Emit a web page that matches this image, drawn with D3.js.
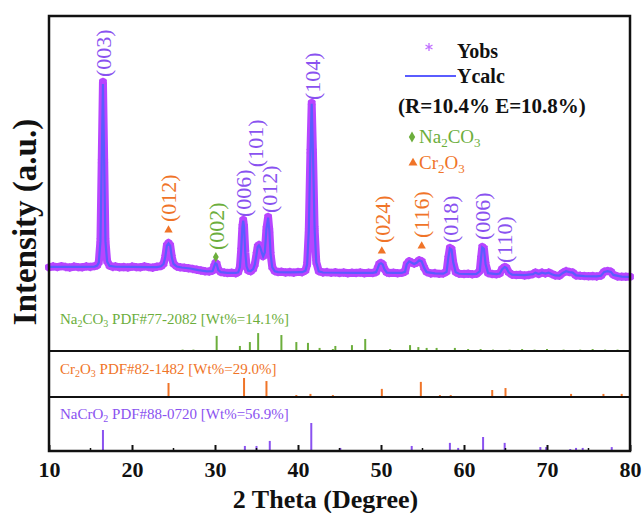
<!DOCTYPE html>
<html><head><meta charset="utf-8">
<script src="https://cdn.jsdelivr.net/npm/d3@7"></script>
<style>body{margin:0;background:#fff}svg{display:block}text{font-family:"Liberation Serif","Times New Roman",serif}</style>
</head><body>
<svg id="c" width="644" height="513"></svg>
<script>
// ---------- data ----------
const obsPoints = [[10,640],[10.5,690],[11,650],[11.5,700],[12,660],[12.5,630],[13,680],[13.5,650],[14,640],[14.5,690],[15,660],[15.5,700],[15.8,740],[16.0,900],[16.2,2000],[16.35,6000],[16.5,10000],[16.65,6000],[16.8,2000],[17.0,950],[17.3,720],[17.7,660],[18,690],[18.5,640],[19,660],[19.5,630],[20,680],[20.5,650],[21,640],[21.5,690],[22,650],[22.5,620],[23,670],[23.5,700],[23.8,820],[24.0,1150],[24.2,1750],[24.4,1870],[24.6,1750],[24.8,1150],[25.0,820],[25.4,680],[25.8,640],[26.3,620],[26.8,590],[27.3,560],[27.8,520],[28.3,480],[28.8,440],[29.3,430],[29.7,470],[29.9,700],[30.05,860],[30.2,820],[30.4,520],[30.7,400],[31.1,380],[31.5,350],[32,370],[32.5,340],[32.8,400],[33.0,650],[33.15,1500],[33.3,2700],[33.4,3030],[33.5,2700],[33.65,1400],[33.8,700],[34.0,480],[34.3,440],[34.6,560],[34.8,800],[35.0,1300],[35.15,1700],[35.3,1770],[35.45,1650],[35.6,1450],[35.8,1200],[36.0,1400],[36.2,2600],[36.4,3180],[36.55,2500],[36.7,1300],[36.9,650],[37.2,450],[37.6,400],[38,420],[38.5,380],[39,400],[39.5,370],[40,410],[40.5,390],[40.9,480],[41.1,800],[41.3,2500],[41.5,6500],[41.65,8940],[41.8,6500],[42.0,2600],[42.2,900],[42.5,450],[43,380],[43.5,400],[44,360],[44.5,390],[45,350],[45.5,380],[46,340],[46.5,370],[47,350],[47.5,380],[48,340],[48.5,370],[49,350],[49.4,400],[49.6,600],[49.8,820],[50.0,860],[50.2,800],[50.4,560],[50.7,380],[51,350],[51.5,370],[52,340],[52.5,360],[52.9,420],[53.1,800],[53.4,950],[53.7,880],[54.0,820],[54.3,880],[54.6,1000],[54.9,950],[55.2,620],[55.5,400],[56,330],[56.5,350],[57,310],[57.5,330],[57.9,420],[58.1,1100],[58.3,1620],[58.5,1560],[58.7,900],[59.0,400],[59.4,320],[60,300],[60.5,320],[61,290],[61.5,310],[61.9,450],[62.05,1100],[62.2,1670],[62.4,1600],[62.6,800],[62.9,350],[63.4,300],[63.9,290],[64.3,330],[64.6,560],[64.9,660],[65.1,620],[65.4,380],[65.8,270],[66.3,250],[66.8,260],[67.3,230],[67.8,250],[68.3,300],[68.6,380],[69.0,300],[69.4,380],[69.8,330],[70.2,380],[70.6,300],[71.0,230],[71.5,220],[71.9,360],[72.3,450],[72.7,400],[73.1,380],[73.5,230],[74,210],[74.5,200],[75,190],[75.5,200],[76,180],[76.5,220],[76.9,420],[77.3,460],[77.7,420],[78.0,260],[78.5,180],[79,170],[79.5,160],[80,160]];

const calcPoints = [[10,660],[12,660],[14,660],[15.5,680],[15.8,730],[16.0,880],[16.2,1950],[16.35,5900],[16.5,9900],[16.65,5900],[16.8,1950],[17.0,930],[17.3,710],[18,670],[20,660],[22,650],[23,655],[23.5,690],[23.8,810],[24.0,1130],[24.2,1730],[24.4,1850],[24.6,1730],[24.8,1130],[25.0,810],[25.4,680],[26,630],[27,580],[28,500],[29,440],[29.7,450],[29.9,690],[30.05,850],[30.2,800],[30.4,500],[30.7,400],[31.5,360],[32.5,355],[32.8,390],[33.0,640],[33.15,1480],[33.3,2680],[33.4,3000],[33.5,2680],[33.65,1380],[33.8,690],[34.0,470],[34.3,450],[34.6,550],[34.8,790],[35.0,1280],[35.15,1680],[35.3,1750],[35.45,1640],[35.6,1440],[35.8,1190],[36.0,1390],[36.2,2580],[36.4,3150],[36.55,2480],[36.7,1290],[36.9,640],[37.2,440],[37.6,400],[39,390],[40.5,395],[40.9,470],[41.1,790],[41.3,2480],[41.5,6450],[41.65,8900],[41.8,6450],[42.0,2580],[42.2,890],[42.5,440],[43,380],[45,365],[47,360],[49,360],[49.4,395],[49.6,590],[49.8,810],[50.0,850],[50.2,790],[50.4,550],[50.7,375],[51.5,360],[52.5,355],[52.9,415],[53.1,790],[53.4,940],[53.7,870],[54.0,810],[54.3,870],[54.6,990],[54.9,940],[55.2,610],[55.5,395],[56.5,335],[57.5,320],[57.9,410],[58.1,1090],[58.3,1600],[58.5,1540],[58.7,890],[59.0,395],[59.4,315],[61,300],[61.5,305],[61.9,440],[62.05,1090],[62.2,1650],[62.4,1580],[62.6,790],[62.9,345],[63.9,295],[64.3,325],[64.6,550],[64.9,650],[65.1,610],[65.4,375],[65.8,270],[67.3,245],[68.3,295],[68.6,370],[69.0,300],[69.4,370],[69.8,325],[70.2,370],[70.6,295],[71.0,230],[71.5,225],[71.9,355],[72.3,440],[72.7,395],[73.1,375],[73.5,230],[74.5,200],[76,185],[76.5,215],[76.9,410],[77.3,450],[77.7,410],[78.0,255],[79,170],[80,160]];

// peak labels: [text, 2theta, intensity at label start, phase]
const peakLabels = [["(003)",16.5,10250,"m"],["(012)",24.4,2930,"c"],["(002)",30.1,1515,"n"],["(006)",33.4,3180,"m"],["(101)",34.8,5700,"m"],["(012)",36.6,3380,"m"],["(104)",41.7,9090,"m"],["(024)",50.1,1870,"c"],["(116)",54.9,2120,"c"],["(018)",58.3,1870,"m"],["(006)",62.2,2020,"m"],["(110)",64.9,860,"m"]];
// phase markers above peaks: [2theta, intensity, phase]
const phaseMarks = [[24.4,2525,"c"],[30.1,1160,"n"],[50.1,1465,"c"],[54.9,1717,"c"]];

// reference sticks: [2theta, relative intensity]
const na2co3Sticks = [[14.9,3],[19.8,3],[23.0,3],[23.7,3],[26.1,5],[27.4,5],[30.2,54],[33.0,18],[34.2,32],[35.2,64],[38.0,57],[39.8,32],[41.2,29],[42.6,11],[44.2,7],[44.5,18],[46.5,21],[48.1,43],[51.1,7],[53.5,21],[54.5,14],[55.5,11],[56.7,11],[58.9,11],[60.5,7],[62.0,7],[63.5,5],[65.5,5],[67.0,7],[68.5,5],[70.0,7],[72.0,5],[74.0,5],[75.5,7],[77.0,5],[78.5,5]];
const cr2o3Sticks = [[24.4,50],[33.5,68],[36.2,57],[39.8,7],[41.5,11],[44.2,7],[50.1,29],[54.8,54],[57.1,7],[58.4,7],[63.4,25],[65.0,32],[72.9,11],[76.8,11],[79.0,11]];
const nacro2Sticks = [[16.5,75],[33.6,18],[35.0,18],[36.6,36],[41.6,100],[45.1,11],[53.7,18],[58.3,29],[59.3,11],[62.3,50],[64.9,29],[69.2,14],[69.9,14],[72.8,7],[73.5,11],[74.3,11],[77.8,14]];

const xTicks = [10,20,30,40,50,60,70,80];
const xMinorTicks = [15,25,35,45,55,65,75];

// ---------- drawing ----------
const svg = d3.select("#c");
const L = 49, R = 630, T = 16, B = 451;
const base1 = 351, base2 = 397, base3 = B;
const col = {m:"#8a52f0", c:"#f07428", n:"#6cae3c", obs:"#b845ff", calc:"#5a5cff"};

const x = d3.scaleLinear().domain([10,80]).range([L,R]);
const yMain = d3.scaleLinear().domain([0,10000]).range([280,82]);
const stickH = d3.scaleLinear().domain([0,100]).range([0,28]);

// Yobs: thick band + asterisk markers
const lineObs = d3.line().x(d=>x(d[0])).y(d=>yMain(d[1]));
svg.append("path").attr("d", lineObs(obsPoints)).attr("fill","none")
  .attr("stroke", col.obs).attr("stroke-width", 8).attr("stroke-linejoin","round").attr("stroke-linecap","round");
const sym = d3.symbol().type(d3.symbolAsterisk || d3.symbolCross).size(50);
svg.append("g").selectAll("path").data(obsPoints).join("path")
  .attr("transform", d=>`translate(${x(d[0])},${yMain(d[1])})`)
  .attr("d", sym).attr("fill","none").attr("stroke", col.obs).attr("stroke-width",1.5);
// Ycalc line
svg.append("path").attr("d", lineObs(calcPoints)).attr("fill","none")
  .attr("stroke", col.calc).attr("stroke-width", 2.2);

// peak labels
svg.append("g").selectAll("text").data(peakLabels).join("text")
  .attr("transform", d=>`translate(${x(d[1])},${yMain(d[2])}) rotate(-90)`)
  .attr("dy","0.35em").attr("font-size",22).attr("fill", d=>col[d[3]]).text(d=>d[0]);
const tri = d3.symbol().type(d3.symbolTriangle).size(30);
const dia = d3.symbol().type(d3.symbolDiamond).size(30);
svg.append("g").selectAll("path").data(phaseMarks).join("path")
  .attr("transform", d=>`translate(${x(d[0])},${yMain(d[1])})`)
  .attr("d", d=> d[2]==="c" ? tri() : dia()).attr("fill", d=>col[d[2]]);

// sticks
function sticks(data, base, color){
  svg.append("g").selectAll("line").data(data).join("line")
    .attr("x1", d=>x(d[0])).attr("x2", d=>x(d[0]))
    .attr("y1", base).attr("y2", d=>base - stickH(d[1]))
    .attr("stroke", color).attr("stroke-width", 2);
}
sticks(na2co3Sticks, base1, col.n);
sticks(cr2o3Sticks, base2, col.c);
sticks(nacro2Sticks, base3, col.m);

// panel labels
function phaseLabel(y, color, parts){
  const t = svg.append("text").attr("x", 60).attr("y", y).attr("font-size", 15).attr("fill", color);
  parts.forEach(p=>{
    if (p.sub) t.append("tspan").attr("font-size", 10).attr("dy", 3).text(p.t);
    else t.append("tspan").attr("dy", p.after ? -3 : 0).text(p.t);
  });
}
phaseLabel(324, col.n, [{t:"Na"},{t:"2",sub:1},{t:"CO",after:1},{t:"3",sub:1},{t:" PDF#77-2082 [Wt%=14.1%]",after:1}]);
phaseLabel(374, col.c, [{t:"Cr"},{t:"2",sub:1},{t:"O",after:1},{t:"3",sub:1},{t:" PDF#82-1482 [Wt%=29.0%]",after:1}]);
phaseLabel(419, col.m, [{t:"NaCrO"},{t:"2",sub:1},{t:" PDF#88-0720 [Wt%=56.9%]",after:1}]);

// dividers & frame
[base1, base2].forEach(yy=>svg.append("line").attr("x1",L).attr("x2",R).attr("y1",yy).attr("y2",yy)
  .attr("stroke","#111").attr("stroke-width",2));
svg.append("rect").attr("x",L).attr("y",T).attr("width",R-L).attr("height",B-T)
  .attr("fill","none").attr("stroke","#111").attr("stroke-width",2.5);

// x axis
const ax = svg.append("g").attr("transform",`translate(0,${B})`)
  .call(d3.axisBottom(x).tickValues(xTicks).tickSize(-6).tickPadding(10).tickFormat(d3.format("d")));
ax.select(".domain").remove();
ax.selectAll(".tick line").attr("stroke","#111").attr("stroke-width",2);
ax.selectAll("text").attr("font-size",22).attr("font-weight","bold").attr("fill","#111")
  .attr("font-family",'"Liberation Serif","Times New Roman",serif');
svg.append("g").selectAll("line").data(xMinorTicks).join("line")
  .attr("x1",d=>x(d)).attr("x2",d=>x(d)).attr("y1",B).attr("y2",B-3).attr("stroke","#111").attr("stroke-width",1.5);

svg.append("text").attr("x", (L+R)/2 - 14).attr("y", 508).attr("text-anchor","middle")
  .attr("font-size",26).attr("font-weight","bold").attr("fill","#111").text("2 Theta (Degree)");
svg.append("text").attr("transform","translate(36,222) rotate(-90)").attr("text-anchor","middle")
  .attr("font-size",33).attr("font-weight","bold").attr("fill","#111").text("Intensity (a.u.)");

// legend
svg.append("path").attr("transform","translate(429,47)").attr("d", d3.symbol().type(d3.symbolAsterisk || d3.symbolCross).size(45)())
  .attr("fill","none").attr("stroke", "#c070ff").attr("stroke-width",1.3);
svg.append("text").attr("x",457).attr("y",58).attr("font-size",20).attr("font-weight","bold").attr("fill","#111").text("Yobs");
svg.append("line").attr("x1",405).attr("x2",456).attr("y1",76).attr("y2",76).attr("stroke",col.calc).attr("stroke-width",2);
svg.append("text").attr("x",457).attr("y",83).attr("font-size",20).attr("font-weight","bold").attr("fill","#111").text("Ycalc");
svg.append("text").attr("x",398).attr("y",113).attr("font-size",21).attr("font-weight","bold").attr("fill","#111").text("(R=10.4% E=10.8%)");
svg.append("path").attr("transform","translate(412,137)").attr("d", d3.symbol().type(d3.symbolDiamond).size(35)()).attr("fill", col.n);
const lg1 = svg.append("text").attr("x",419).attr("y",143).attr("font-size",19).attr("fill",col.n);
lg1.append("tspan").text("Na"); lg1.append("tspan").attr("font-size",13).attr("dy",4).text("2");
lg1.append("tspan").attr("dy",-4).text("CO"); lg1.append("tspan").attr("font-size",13).attr("dy",4).text("3");
svg.append("path").attr("transform","translate(413,163)").attr("d", d3.symbol().type(d3.symbolTriangle).size(35)()).attr("fill", col.c);
const lg2 = svg.append("text").attr("x",419).attr("y",169).attr("font-size",19).attr("fill",col.c);
lg2.append("tspan").text("Cr"); lg2.append("tspan").attr("font-size",13).attr("dy",4).text("2");
lg2.append("tspan").attr("dy",-4).text("O"); lg2.append("tspan").attr("font-size",13).attr("dy",4).text("3");
</script>
</body></html>
